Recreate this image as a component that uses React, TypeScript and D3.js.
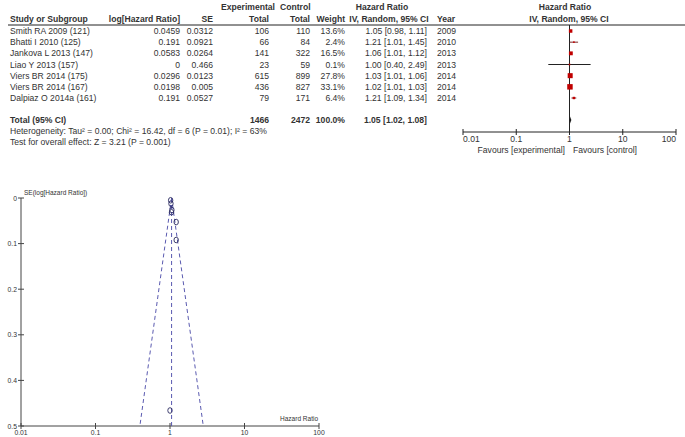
import React from "react";
import * as d3 from "d3";

const studies = ["Smith RA 2009 (121)", "Bhatti I 2010 (125)", "Jankova L 2013 (147)", "Liao Y 2013 (157)", "Viers BR 2014 (175)", "Viers BR 2014 (167)", "Dalpiaz O 2014a (161)"];
const logHR = ["0.0459", "0.191", "0.0583", "0", "0.0296", "0.0198", "0.191"];
const seVals = ["0.0312", "0.0921", "0.0264", "0.466", "0.0123", "0.005", "0.0527"];
const expTotal = [106, 66, 141, 23, 615, 436, 79];
const ctrlTotal = [110, 84, 322, 59, 899, 827, 171];
const weights = [13.6, 2.4, 16.5, 0.1, 27.8, 33.1, 6.4];
const hr = [1.05, 1.21, 1.06, 1.0, 1.03, 1.02, 1.21];
const ciLow = [0.98, 1.01, 1.01, 0.4, 1.01, 1.01, 1.09];
const ciHigh = [1.11, 1.45, 1.12, 2.49, 1.06, 1.03, 1.34];
const years = [2009, 2010, 2013, 2013, 2014, 2014, 2014];
const totalExp = 1466;
const totalCtrl = 2472;
const totalHR = [1.05, 1.02, 1.08];
const forestTicks = [0.01, 0.1, 1, 10, 100];
const funnelXTicks = [0.01, 0.1, 1, 10, 100];
const funnelYTicks = [0, 0.1, 0.2, 0.3, 0.4, 0.5];

const FONT = "'Liberation Sans', Arial, sans-serif";
const TXT = "#333";

export default function App() {
  const rowY = d3.scaleLinear().domain([0, 6]).range([34, 101]);
  const fx = d3.scaleLog().domain([0.01, 100]).range([463, 676]);
  const px = d3.scaleLog().domain([0.01, 100]).range([21, 319]);
  const py = d3.scaleLinear().domain([0, 0.5]).range([198, 426]);
  const pooled = Math.log(totalHR[0]);
  const fs = 8.6;

  const fmt2 = (v: number) => v.toFixed(2);
  const funnelDash = "4,3";
  const dashColor = "#5a5ab0";

  const leftX = px(Math.exp(pooled - 1.96 * 0.5));
  const rightX = px(Math.exp(pooled + 1.96 * 0.5));
  const apexX = px(Math.exp(pooled));

  return (
    <svg width={685} height={437} style={{ position: "absolute", left: 0, top: 0, background: "#fff" }} fontFamily={FONT}>
      {/* Header */}
      <g fontSize={fs} fontWeight="bold" fill={TXT}>
        <text x={275} y={10} textAnchor="end">Experimental</text>
        <text x={280} y={10}>Control</text>
        <text x={382} y={10} textAnchor="middle">Hazard Ratio</text>
        <text x={565} y={10} textAnchor="middle">Hazard Ratio</text>
        <text x={10} y={22}>Study or Subgroup</text>
        <text x={180} y={22} textAnchor="end">log[Hazard Ratio]</text>
        <text x={213} y={22} textAnchor="end">SE</text>
        <text x={269} y={22} textAnchor="end">Total</text>
        <text x={310} y={22} textAnchor="end">Total</text>
        <text x={345} y={22} textAnchor="end">Weight</text>
        <text x={389} y={22} textAnchor="middle">IV, Random, 95% CI</text>
        <text x={437} y={22}>Year</text>
        <text x={569} y={22} textAnchor="middle">IV, Random, 95% CI</text>
      </g>
      <line x1={8} x2={685} y1={25} y2={25} stroke="#222" strokeWidth={1} />

      {/* Rows */}
      <g fontSize={fs} fill={TXT}>
        {studies.map((s, i) => (
          <g key={s + i}>
            <text x={10} y={rowY(i)}>{s}</text>
            <text x={180} y={rowY(i)} textAnchor="end">{logHR[i]}</text>
            <text x={213} y={rowY(i)} textAnchor="end">{seVals[i]}</text>
            <text x={269} y={rowY(i)} textAnchor="end">{expTotal[i]}</text>
            <text x={310} y={rowY(i)} textAnchor="end">{ctrlTotal[i]}</text>
            <text x={345} y={rowY(i)} textAnchor="end">{weights[i].toFixed(1)}%</text>
            <text x={427} y={rowY(i)} textAnchor="end">{`${fmt2(hr[i])} [${fmt2(ciLow[i])}, ${fmt2(ciHigh[i])}]`}</text>
            <text x={437} y={rowY(i)}>{years[i]}</text>
          </g>
        ))}
      </g>
      <g fontSize={fs} fill={TXT} fontWeight="bold">
        <text x={10} y={123}>Total (95% CI)</text>
        <text x={269} y={123} textAnchor="end">{totalExp}</text>
        <text x={310} y={123} textAnchor="end">{totalCtrl}</text>
        <text x={345} y={123} textAnchor="end">100.0%</text>
        <text x={427} y={123} textAnchor="end">{`${fmt2(totalHR[0])} [${fmt2(totalHR[1])}, ${fmt2(totalHR[2])}]`}</text>
      </g>
      <g fontSize={fs} fill={TXT}>
        <text x={10} y={134}>Heterogeneity: Tau² = 0.00; Chi² = 16.42, df = 6 (P = 0.01); I² = 63%</text>
        <text x={10} y={145}>Test for overall effect: Z = 3.21 (P = 0.001)</text>
      </g>

      {/* Forest plot */}
      <line x1={fx(1)} x2={fx(1)} y1={25} y2={132} stroke="#222" />
      {studies.map((s, i) => {
        const side = Math.max(1.6, Math.sqrt(weights[i]) * 0.95);
        const y = rowY(i) - 3;
        return (
          <g key={"f" + i}>
            <line x1={fx(ciLow[i])} x2={fx(ciHigh[i])} y1={y} y2={y} stroke={i === 3 ? "#222" : "#7a2a2a"} strokeWidth={1} />
            <rect x={fx(hr[i]) - side / 2} y={y - side / 2} width={side} height={side} fill="#c00000" />
          </g>
        );
      })}
      <path
        d={`M${fx(totalHR[1])},120 L${fx(totalHR[0])},116.5 L${fx(totalHR[2])},120 L${fx(totalHR[0])},123.5 Z`}
        fill="#111"
      />
      <line x1={fx(0.01)} x2={fx(100)} y1={132} y2={132} stroke="#222" />
      <g fontSize={fs} fill={TXT}>
        {forestTicks.map((t) => (
          <g key={"ft" + t}>
            <line x1={fx(t)} x2={fx(t)} y1={129} y2={135} stroke="#222" />
            <text x={fx(t)} y={142} textAnchor={t === 0.01 ? "start" : t === 100 ? "end" : "middle"}>{String(t)}</text>
          </g>
        ))}
        <text x={565} y={153} textAnchor="end">Favours [experimental]</text>
        <text x={573} y={153}>Favours [control]</text>
      </g>

      {/* Funnel plot */}
      <line x1={21} x2={21} y1={py(0)} y2={py(0.5)} stroke="#444" />
      <line x1={px(0.01)} x2={px(100)} y1={py(0.5)} y2={py(0.5)} stroke="#444" />
      <g fontSize={6.8} fill={TXT}>
        {funnelYTicks.map((t) => (
          <g key={"fy" + t}>
            <line x1={18} x2={24} y1={py(t)} y2={py(t)} stroke="#444" />
            <text x={17} y={py(t) + 2.5} textAnchor="end">{String(t)}</text>
          </g>
        ))}
        {funnelXTicks.map((t) => (
          <g key={"fxx" + t}>
            <line x1={px(t)} x2={px(t)} y1={py(0.5) - 3} y2={py(0.5) + 3} stroke="#444" />
            <text x={px(t)} y={py(0.5) + 9} textAnchor="middle">{String(t)}</text>
          </g>
        ))}
        <text x={318} y={421} textAnchor="end" fontSize={6.5}>Hazard Ratio</text>
        <text x={24} y={195} fontSize={6.5}>SE(log[Hazard Ratio])</text>
      </g>
      <g stroke={dashColor} strokeDasharray={funnelDash} fill="none" strokeWidth={1}>
        <line x1={apexX} x2={leftX} y1={py(0)} y2={py(0.5)} />
        <line x1={apexX} x2={rightX} y1={py(0)} y2={py(0.5)} />
        <line x1={apexX} x2={apexX} y1={py(0)} y2={py(0.5)} />
      </g>
      <g fill="none" stroke="#2a2a60" strokeWidth={0.9}>
        {studies.map((s, i) => (
          <ellipse key={"c" + i} cx={px(Math.exp(+logHR[i]))} cy={py(+seVals[i])} rx={2.2} ry={2.8} />
        ))}
      </g>
    </svg>
  );
}
